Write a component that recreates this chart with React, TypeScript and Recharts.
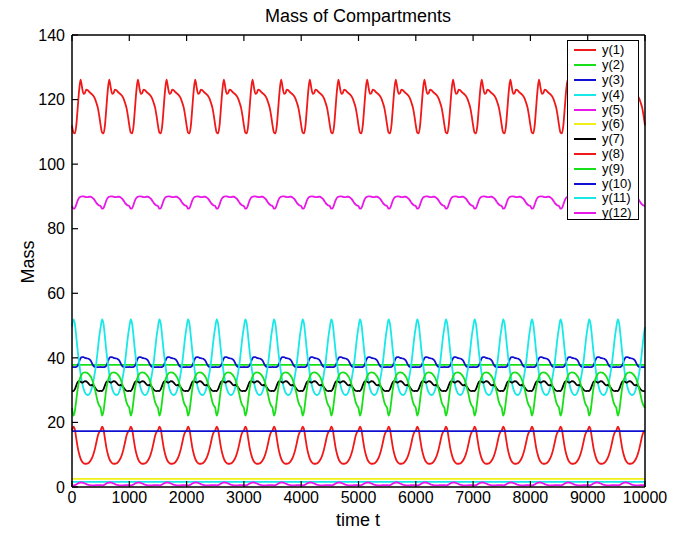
import React from "react";
import { LineChart, Line, XAxis, YAxis, ReferenceArea } from "recharts";

// time grid: one cycle = 500 time units sampled every 25, repeated over 0..10000
const T_STEP = 25;
const T_END = 10000;

// one-cycle shapes (phase 0,25,...,475)
const y1Cycle = [112.0, 109.8, 109.5, 112.0, 117.5, 123.0, 126.2, 123.8, 121.8, 122.0, 123.1, 122.9, 122.4, 122.0, 121.6, 121.1, 120.3, 119.0, 117.5, 115.0];
const y2Cycle = [37.8, 37.8, 37.8, 37.8, 37.8, 37.8, 37.8, 37.8, 37.8, 37.8, 37.8, 37.8, 37.8, 37.8, 37.8, 37.8, 37.8, 37.8, 37.8, 37.8];
const y3Cycle = [37.2, 37.1, 37.1, 37.2, 37.6, 38.8, 39.9, 40.2, 40.2, 40.0, 39.9, 39.8, 39.6, 39.2, 38.3, 37.5, 37.2, 37.1, 37.1, 37.1];
const y4Cycle = [49.5, 51.9, 50.5, 46.5, 42.0, 38.5, 35.0, 32.5, 30.5, 29.3, 28.7, 28.5, 28.7, 29.5, 31.0, 33.0, 35.5, 38.5, 42.5, 46.5];
const y5Cycle = [87.0, 86.2, 86.4, 87.5, 88.8, 89.6, 89.9, 90.0, 90.0, 89.9, 89.8, 89.8, 89.9, 89.9, 89.7, 89.3, 88.7, 88.0, 87.5, 87.2];
const y6Cycle = [2.5, 2.5, 2.5, 2.5, 2.5, 2.5, 2.5, 2.5, 2.5, 2.5, 2.5, 2.5, 2.5, 2.5, 2.5, 2.5, 2.5, 2.5, 2.5, 2.5];
const y7Cycle = [29.8, 29.7, 30.3, 31.5, 32.5, 32.8, 32.6, 32.3, 32.5, 32.8, 32.7, 32.3, 31.8, 31.5, 31.6, 31.4, 30.8, 30.2, 29.8, 29.7];
const y8Cycle = [17.5, 18.7, 17.8, 15.0, 12.2, 10.2, 8.8, 7.9, 7.4, 7.2, 7.2, 7.3, 7.6, 8.2, 9.0, 10.2, 11.8, 13.8, 15.8, 17.0];
const y9Cycle = [24.5, 22.1, 23.5, 27.0, 30.5, 32.8, 34.2, 35.0, 35.4, 35.5, 35.4, 35.2, 34.8, 34.2, 33.3, 32.0, 30.3, 28.3, 26.3, 25.2];
const y10Cycle = [17.3, 17.3, 17.3, 17.3, 17.3, 17.3, 17.3, 17.3, 17.3, 17.3, 17.3, 17.3, 17.3, 17.3, 17.3, 17.3, 17.3, 17.3, 17.3, 17.3];
const y11Cycle = [1.6, 1.6, 1.6, 1.6, 1.6, 1.6, 1.6, 1.6, 1.6, 1.6, 1.6, 1.6, 1.6, 1.6, 1.6, 1.6, 1.6, 1.6, 1.6, 1.6];
const y12Cycle = [0.6, 0.5, 0.6, 0.8, 1.1, 1.3, 1.4, 1.4, 1.3, 1.1, 0.9, 0.7, 0.6, 0.5, 0.5, 0.5, 0.5, 0.6, 0.6, 0.6];

const seriesNames = ["y(1)", "y(2)", "y(3)", "y(4)", "y(5)", "y(6)", "y(7)", "y(8)", "y(9)", "y(10)", "y(11)", "y(12)"];
const seriesColors = ["#f01818", "#18e018", "#1010d0", "#18e8e8", "#e818e8", "#f0f018", "#000000", "#f01818", "#18e018", "#1010d0", "#18e8e8", "#e818e8"];
const cycles = [y1Cycle, y2Cycle, y3Cycle, y4Cycle, y5Cycle, y6Cycle, y7Cycle, y8Cycle, y9Cycle, y10Cycle, y11Cycle, y12Cycle];

const xTicks = [0, 1000, 2000, 3000, 4000, 5000, 6000, 7000, 8000, 9000, 10000];
const yTicks = [0, 20, 40, 60, 80, 100, 120, 140];

const data: Record<string, number>[] = [];
for (let i = 0; i * T_STEP <= T_END; i++) {
  const row: Record<string, number> = { t: i * T_STEP };
  cycles.forEach((c, s) => {
    row["s" + s] = c[i % c.length];
  });
  data.push(row);
}

const FONT = "'Liberation Sans', Arial, Helvetica, sans-serif";
const TICK_LEN = 6;
const X_MARGIN = 5;
const Y_MARGIN = 7;

const BottomTick = (p: any) => (
  <g>
    <line x1={p.x} x2={p.x} y1={p.y - X_MARGIN} y2={p.y - X_MARGIN - TICK_LEN} stroke="#000" strokeWidth={1.2} />
    <text x={p.x} y={p.y} dy="0.71em" textAnchor="middle" fontSize={16} fontFamily={FONT} fill="#000">
      {p.payload.value}
    </text>
  </g>
);
const TopTick = (p: any) => (
  <line x1={p.x} x2={p.x} y1={p.y} y2={p.y + TICK_LEN} stroke="#000" strokeWidth={1.2} />
);
const LeftTick = (p: any) => (
  <g>
    <line x1={p.x + Y_MARGIN} x2={p.x + Y_MARGIN + TICK_LEN} y1={p.y} y2={p.y} stroke="#000" strokeWidth={1.2} />
    <text x={p.x} y={p.y} dy="0.355em" textAnchor="end" fontSize={16} fontFamily={FONT} fill="#000">
      {p.payload.value}
    </text>
  </g>
);
const RightTick = (p: any) => (
  <line x1={p.x} x2={p.x - TICK_LEN} y1={p.y} y2={p.y} stroke="#000" strokeWidth={1.2} />
);

export default function App() {
  return (
    <div style={{ position: "absolute", left: 0, top: 0, width: 674, height: 536, background: "#fff", fontFamily: FONT }}>
      <LineChart width={674} height={536} data={data} margin={{ top: 34, right: 28, bottom: 19, left: 0 }}>
        <XAxis
          dataKey="t"
          type="number"
          domain={[0, 10000]}
          ticks={xTicks}
          interval={0}
          height={30}
          tickSize={0}
          tickMargin={X_MARGIN}
          tick={BottomTick}
          axisLine={{ stroke: "#000", strokeWidth: 1.5 }}
        />
        <XAxis
          xAxisId="top"
          orientation="top"
          type="number"
          dataKey="t"
          domain={[0, 10000]}
          ticks={xTicks}
          interval={0}
          height={1}
          tickSize={0}
          tickMargin={0}
          tick={TopTick}
          axisLine={{ stroke: "#000", strokeWidth: 1.5 }}
        />
        <YAxis
          type="number"
          domain={[0, 140]}
          ticks={yTicks}
          interval={0}
          width={72}
          tickSize={0}
          tickMargin={Y_MARGIN}
          tick={LeftTick}
          axisLine={{ stroke: "#000", strokeWidth: 1.5 }}
        />
        <YAxis
          yAxisId="right"
          orientation="right"
          type="number"
          domain={[0, 140]}
          ticks={yTicks}
          interval={0}
          width={1}
          tickSize={0}
          tickMargin={0}
          tick={RightTick}
          axisLine={{ stroke: "#000", strokeWidth: 1.5 }}
        />
        {cycles.map((_, s) => (
          <Line
            key={s}
            dataKey={"s" + s}
            name={seriesNames[s]}
            stroke={seriesColors[s]}
            strokeWidth={1.8}
            dot={false}
            type="monotone"
            isAnimationActive={false}
          />
        ))}
      </LineChart>
      <div style={{ position: "absolute", left: 0, width: 716, top: 6, textAlign: "center", fontSize: 18, color: "#000" }}>
        Mass of Compartments
      </div>
      <div style={{ position: "absolute", left: 0, width: 716, top: 510, textAlign: "center", fontSize: 18, color: "#000" }}>
        time t
      </div>
      <div
        style={{
          position: "absolute",
          left: 28,
          top: 262,
          transform: "translate(-50%, -50%) rotate(-90deg)",
          fontSize: 18,
          color: "#000",
          whiteSpace: "nowrap",
        }}
      >
        Mass
      </div>
      <div
        style={{
          position: "absolute",
          left: 567,
          top: 40,
          width: 72,
          height: 180,
          border: "1px solid #000",
          background: "#fff",
          boxSizing: "border-box",
        }}
      >
        {seriesNames.map((n, s) => (
          <div key={n} style={{ position: "absolute", left: 0, top: 2 + s * 14.8, height: 14.8, width: 70, display: "flex", alignItems: "center" }}>
            <div style={{ marginLeft: 6, width: 22, height: 2, background: seriesColors[s] }} />
            <div style={{ marginLeft: 6, fontSize: 13, lineHeight: "14px", color: "#000" }}>{n}</div>
          </div>
        ))}
      </div>
    </div>
  );
}
